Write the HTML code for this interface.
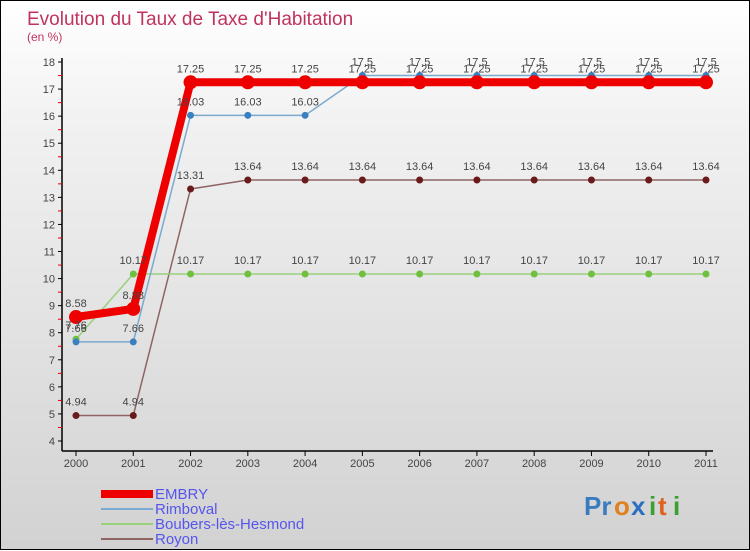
<!DOCTYPE html>
<html><head><meta charset="utf-8">
<style>
html,body{margin:0;padding:0}
body{width:750px;height:550px;overflow:hidden;font-family:"Liberation Sans",sans-serif}
#wrap{position:relative;width:748px;height:548px;border:1px solid #000;background:linear-gradient(#ffffff 0%,#f0f0f0 25%,#d2d2d2 100%)}
svg{position:absolute;left:0;top:0}
</style></head><body>
<div id="wrap">
<svg id="chart" width="750" height="550">
<text x="26" y="24" font-size="19" fill="#c0335e">Evolution du Taux de Taxe d'Habitation</text>
<text x="26" y="40" font-size="12" fill="#c0335e">(en %)</text>
<g id="axes"></g><g id="series"></g><g id="labels"></g>
<g>
<rect x="100" y="489" width="52" height="8" fill="#ee0000"/>
<line x1="100" y1="508" x2="152" y2="508" stroke="#7aaacf" stroke-width="2"/>
<line x1="100" y1="523" x2="152" y2="523" stroke="#99d07a" stroke-width="2"/>
<line x1="100" y1="538" x2="152" y2="538" stroke="#8e6464" stroke-width="2"/>
<g font-size="15" fill="#5555ee">
<text x="154" y="498">EMBRY</text>
<text x="154" y="513">Rimboval</text>
<text x="154" y="528">Boubers-lès-Hesmond</text>
<text x="154" y="543">Royon</text>
</g></g>
<g font-size="26" font-weight="bold">
<text x="583" y="514" fill="#3a7cc0">Pr</text><text x="613" y="514" fill="#e08020">o</text><text x="630" y="514" fill="#2a6fc0">x</text><text x="648" y="514" fill="#3aa030">i</text><text x="657" y="514" fill="#e06020">t</text><text x="672" y="514" fill="#3aa030">i</text>
</g>
</svg></div>
<script>
const years=["2000","2001","2002","2003","2004","2005","2006","2007","2008","2009","2010","2011"];
const yTicks=[4,5,6,7,8,9,10,11,12,13,14,15,16,17,18];
const embry=[8.58,8.88,17.25,17.25,17.25,17.25,17.25,17.25,17.25,17.25,17.25,17.25];
const rimboval=[7.66,7.66,16.03,16.03,16.03,17.5,17.5,17.5,17.5,17.5,17.5,17.5];
const boubers=[7.76,10.17,10.17,10.17,10.17,10.17,10.17,10.17,10.17,10.17,10.17,10.17];
const royon=[4.94,4.94,13.31,13.64,13.64,13.64,13.64,13.64,13.64,13.64,13.64,13.64];
const NS="http://www.w3.org/2000/svg";
const xS=i=>75+i*(630/11);
const yS=v=>440-(v-4)*(379/14);
function mk(p,t,a){const e=document.createElementNS(NS,t);for(const k in a)e.setAttribute(k,a[k]);p.appendChild(e);return e;}
const ax=document.getElementById('axes');
let l=mk(ax,'line',{x1:61,y1:57,x2:61,y2:450,stroke:'#000','stroke-width':1.5});

l=mk(ax,'line',{x1:61,y1:450,x2:712,y2:450,stroke:'#000','stroke-width':1.5});

yTicks.forEach(v=>{const y=yS(v);
 mk(ax,'line',{x1:57,y1:y,x2:61,y2:y,stroke:'#000'});
 if(v<18)mk(ax,'line',{x1:57,y1:y-13.5,x2:61,y2:y-13.5,stroke:'#e00000'});
 const t=mk(ax,'text',{x:54,y:y+4,'font-size':11,'text-anchor':'end',fill:'#444'});t.textContent=v;
 });
years.forEach((yr,i)=>{const x=xS(i);
 mk(ax,'line',{x1:x,y1:450,x2:x,y2:455,stroke:'#000'});
 const t=mk(ax,'text',{x:x,y:466,'font-size':11,'text-anchor':'middle',fill:'#444'});t.textContent=yr;
 });
const sg=document.getElementById('series'),lg=document.getElementById('labels');
function draw(data,name,color,w,r,dot,showLbl){
 const g=mk(sg,'g',{});
 
 mk(g,'polyline',{points:data.map((v,i)=>xS(i)+','+yS(v)).join(' '),fill:'none',stroke:color,'stroke-width':w,'stroke-linejoin':'round'});
 data.forEach((v,i)=>{const c=mk(g,'circle',{cx:xS(i),cy:yS(v),r:r,fill:dot});
  
  const t=mk(lg,'text',{x:xS(i),y:yS(v)-10,'font-size':11,'text-anchor':'middle',fill:'#444'});t.textContent=v;
  });
}
draw(royon,'royon','#8e6464',1.5,3.5,'#6a1a1a');
draw(boubers,'boubers','#99d07a',1.5,3.5,'#70c040');
draw(rimboval,'rimboval','#7aaacf',1.5,3.5,'#3a80c0');
draw(embry,'embry','#ee0000',8,7,'#ee0000');
</script>
</body></html>
